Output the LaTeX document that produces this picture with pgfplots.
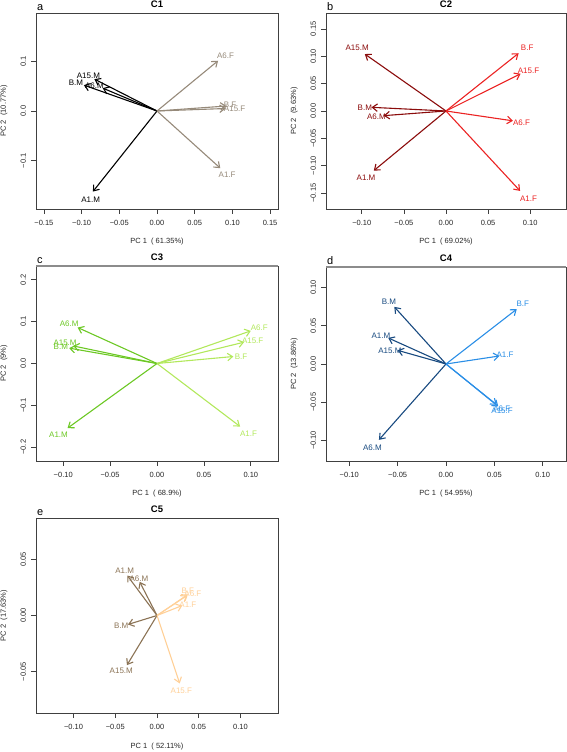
\documentclass[border=0pt]{standalone}
\usepackage{fontspec}
\setmainfont{Liberation Sans}
\usepackage{pgfplots}
\usepackage{pgfplotstable}
\pgfplotsset{compat=1.18}
\usetikzlibrary{arrows.meta}

\definecolor{aM}{RGB}{0,0,0}
\definecolor{aF}{RGB}{150,138,122}
\definecolor{bM}{RGB}{139,12,12}
\definecolor{bF}{RGB}{235,35,35}
\definecolor{cM}{RGB}{108,200,36}
\definecolor{cF}{RGB}{178,232,92}
\definecolor{dM}{RGB}{24,74,128}
\definecolor{dF}{RGB}{42,142,230}
\definecolor{eM}{RGB}{139,115,85}
\definecolor{eF}{RGB}{255,208,152}

% panel a (C1)
\pgfplotstableread{
lab u v lx ly
A15.M -0.083 0.064 -0.091 0.070
B.M -0.097 0.052 -0.1075 0.056
A6.M -0.072 0.046 -0.083 0.050
A1.M -0.085 -0.162 -0.088 -0.179
}\tabaM
\pgfplotstableread{
lab u v lx ly
A6.F 0.081 0.101 0.091 0.111
B.F 0.092 0.010 0.097 0.013
A15.F 0.091 0.005 0.103 0.005
A1.F 0.084 -0.115 0.093 -0.129
}\tabaF
% panel b (C2)
\pgfplotstableread{
lab u v lx ly
A15.M -0.0964 0.104 -0.1055 0.115
B.M -0.0885 0.0067 -0.0964 0.0067
A6.M -0.074 -0.0085 -0.0826 -0.0104
A1.M -0.0858 -0.109 -0.095 -0.122
}\tabbM
\pgfplotstableread{
lab u v lx ly
B.F 0.0862 0.1055 0.0964 0.115
A15.F 0.0885 0.068 0.098 0.073
A6.F 0.0795 -0.018 0.0897 -0.021
A1.F 0.088 -0.146 0.098 -0.161
}\tabbF
% panel c (C3)
\pgfplotstableread{
lab u v lx ly
A6.M -0.0846 0.086 -0.0936 0.095
A15.M -0.0893 0.042 -0.098 0.0486
B.M -0.0936 0.0367 -0.1025 0.039
A1.M -0.0954 -0.1546 -0.105 -0.1705
}\tabcM
\pgfplotstableread{
lab u v lx ly
A6.F 0.100 0.078 0.109 0.0845
A15.F 0.0929 0.051 0.102 0.055
B.F 0.0814 0.0167 0.0896 0.0167
A1.F 0.0886 -0.1506 0.0975 -0.168
}\tabcF
% panel d (C4)
\pgfplotstableread{
lab u v lx ly
B.M -0.0534 0.0748 -0.059 0.082
A1.M -0.0597 0.0341 -0.0672 0.0368
A15.M -0.050 0.0179 -0.058 0.0179
A6.M -0.0693 -0.0993 -0.076 -0.109
}\tabdM
\pgfplotstableread{
lab u v lx ly
B.F 0.0731 0.0718 0.0793 0.079
A1.F 0.0552 0.0105 0.061 0.0123
A6.F 0.0524 -0.0534 0.0576 -0.0586
A15.F 0.054 -0.0556 0.058 -0.0617
}\tabdF
% panel e (C5)
\pgfplotstableread{
lab u v lx ly
A1.M -0.0356 0.0356 -0.0388 0.0395
A6.M -0.0208 0.030 -0.0216 0.033
B.M -0.0348 -0.008 -0.0428 -0.0095
A15.M -0.036 -0.0442 -0.0428 -0.0496
}\tabeM
\pgfplotstableread{
lab u v lx ly
B.F 0.036 0.0178 0.037 0.0217
A6.F 0.037 0.0187 0.043 0.019
A1.F 0.0304 0.0089 0.037 0.0092
A15.F 0.0272 -0.0605 0.0292 -0.0668
}\tabeF

\pgfplotsset{
  pcab/.style={scale only axis, clip=false, tick pos=left, tick align=outside,
    scaled ticks=false,
    major tick length=5pt,
    axis line style={draw=black!75, line width=0.7pt},
    tick style={draw=black!75, line width=0.7pt},
    ticklabel style={font=\fontsize{7.5}{9}\selectfont, text=black!85},
    xticklabel shift=3pt, yticklabel shift=1.5pt,
    yticklabel style={rotate=90, anchor=south},
    label style={font=\fontsize{7.5}{9}\selectfont, text=black!85},
    title style={font=\bfseries\fontsize{9.5}{11}\selectfont, at={(0.5,1)}, anchor=center, yshift=2.5pt},
  },
  arr/.style={quiver={u=\thisrow{u},v=\thisrow{v}}, -{Straight Barb[length=5pt,width=7.5pt]}, line width=1.1pt, draw=#1},
  lbl/.style={only marks, mark=none, nodes near coords, point meta=explicit symbolic,
    nodes near coords align=center,
    every node near coord/.append style={anchor=center, text=#1, font=\fontsize{8}{9}\selectfont, inner sep=0pt}},
}
\newcommand{\panelletter}[1]{\node[anchor=base west, inner sep=0pt, font=\fontsize{11}{12}\selectfont, xshift=1pt, yshift=2pt] at (rel axis cs:0,1) {#1};}

\begin{document}
\begin{tikzpicture}
\useasboundingbox (0pt,0pt) rectangle (567pt,752pt);

% ---- a ----
\begin{axis}[pcab, at={(36pt,543pt)}, anchor=south west, width=242pt, height=196pt,
  xmin=-0.1605, xmax=0.1605, ymin=-0.197, ymax=0.197,
  xtick={-0.15,-0.1,-0.05,0,0.05,0.1,0.15},
  xticklabels={−0.15,−0.10,−0.05,0.00,0.05,0.10,0.15},
  ytick={-0.1,0,0.1}, yticklabels={−0.1,0.0,0.1},
  title={C1},
  xlabel={PC~1~~(~61.35\%)}, ylabel={PC~2~~(10.77\%)},
  xlabel style={at={(axis description cs:0.5,-0.168)}, anchor=center},
  ylabel style={at={(axis description cs:-0.132,0.5)}, anchor=center}]
\addplot[lbl=aM] table[x=lx,y=ly,meta=lab] {\tabaM};
\addplot[arr=aM] table[x expr=0,y expr=0] {\tabaM};
\addplot[lbl=aF] table[x=lx,y=ly,meta=lab] {\tabaF};
\addplot[arr=aF] table[x expr=0,y expr=0] {\tabaF};
\panelletter{a}
\end{axis}

% ---- b ----
\begin{axis}[pcab, at={(326pt,543pt)}, anchor=south west, width=240pt, height=196pt,
  xmin=-0.1425, xmax=0.1425, ymin=-0.179, ymax=0.179,
  xtick={-0.1,-0.05,0,0.05,0.1},
  xticklabels={−0.10,−0.05,0.00,0.05,0.10},
  ytick={-0.15,-0.1,-0.05,0,0.05,0.1,0.15},
  yticklabels={−0.15,−0.10,−0.05,0.00,0.05,0.10,0.15},
  title={C2},
  xlabel={PC~1~~(~69.02\%)}, ylabel={PC~2~~(9.63\%)},
  xlabel style={at={(axis description cs:0.5,-0.168)}, anchor=center},
  ylabel style={at={(axis description cs:-0.133,0.5)}, anchor=center}]
\addplot[lbl=bM] table[x=lx,y=ly,meta=lab] {\tabbM};
\addplot[arr=bM] table[x expr=0,y expr=0] {\tabbM};
\addplot[lbl=bF] table[x=lx,y=ly,meta=lab] {\tabbF};
\addplot[arr=bF] table[x expr=0,y expr=0] {\tabbF};
\panelletter{b}
\end{axis}

% ---- c ----
\begin{axis}[pcab, at={(36pt,291pt)}, anchor=south west, width=242pt, height=195pt,
  xmin=-0.129, xmax=0.129, ymin=-0.233, ymax=0.233,
  xtick={-0.1,-0.05,0,0.05,0.1},
  xticklabels={−0.10,−0.05,0.00,0.05,0.10},
  ytick={-0.2,-0.1,0,0.1,0.2}, yticklabels={−0.2,−0.1,0.0,0.1,0.2},
  title={C3},
  xlabel={PC~1~~(~68.9\%)}, ylabel={PC~2~~(9\%)},
  xlabel style={at={(axis description cs:0.5,-0.169)}, anchor=center},
  ylabel style={at={(axis description cs:-0.132,0.5)}, anchor=center}]
\addplot[lbl=cM] table[x=lx,y=ly,meta=lab] {\tabcM};
\addplot[arr=cM] table[x expr=0,y expr=0] {\tabcM};
\addplot[lbl=cF] table[x=lx,y=ly,meta=lab] {\tabcF};
\addplot[arr=cF] table[x expr=0,y expr=0] {\tabcF};
\draw[black!45, line width=1.6pt] (rel axis cs:0,1) -- (rel axis cs:1,1);
\panelletter{c}
\end{axis}

% ---- d ----
\begin{axis}[pcab, at={(326pt,291pt)}, anchor=south west, width=240pt, height=194pt,
  xmin=-0.124, xmax=0.124, ymin=-0.127, ymax=0.127,
  xtick={-0.1,-0.05,0,0.05,0.1},
  xticklabels={−0.10,−0.05,0.00,0.05,0.10},
  ytick={-0.1,-0.05,0,0.05,0.1}, yticklabels={−0.10,−0.05,0.00,0.05,0.10},
  title={C4},
  xlabel={PC~1~~(~54.95\%)}, ylabel={PC~2~~(13.86\%)},
  xlabel style={at={(axis description cs:0.5,-0.170)}, anchor=center},
  ylabel style={at={(axis description cs:-0.133,0.5)}, anchor=center}]
\addplot[lbl=dM] table[x=lx,y=ly,meta=lab] {\tabdM};
\addplot[arr=dM] table[x expr=0,y expr=0] {\tabdM};
\addplot[lbl=dF] table[x=lx,y=ly,meta=lab] {\tabdF};
\addplot[arr=dF] table[x expr=0,y expr=0] {\tabdF};
\draw[black!45, line width=1.6pt] (rel axis cs:0,1) -- (rel axis cs:1,1);
\panelletter{d}
\end{axis}

% ---- e ----
\begin{axis}[pcab, at={(36pt,39pt)}, anchor=south west, width=242pt, height=195pt,
  xmin=-0.145, xmax=0.145, ymin=-0.0868, ymax=0.0868,
  xtick={-0.1,-0.05,0,0.05,0.1},
  xticklabels={−0.10,−0.05,0.00,0.05,0.10},
  ytick={-0.05,0,0.05}, yticklabels={−0.05,0.00,0.05},
  title={C5},
  xlabel={PC~1~~(~52.11\%)}, ylabel={PC~2~~(17.63\%)},
  xlabel style={at={(axis description cs:0.5,-0.174)}, anchor=center},
  ylabel style={at={(axis description cs:-0.132,0.5)}, anchor=center}]
\addplot[lbl=eM] table[x=lx,y=ly,meta=lab] {\tabeM};
\addplot[arr=eM] table[x expr=0,y expr=0] {\tabeM};
\addplot[lbl=eF] table[x=lx,y=ly,meta=lab] {\tabeF};
\addplot[arr=eF] table[x expr=0,y expr=0] {\tabeF};
\panelletter{e}
\end{axis}
\end{tikzpicture}
\end{document}
